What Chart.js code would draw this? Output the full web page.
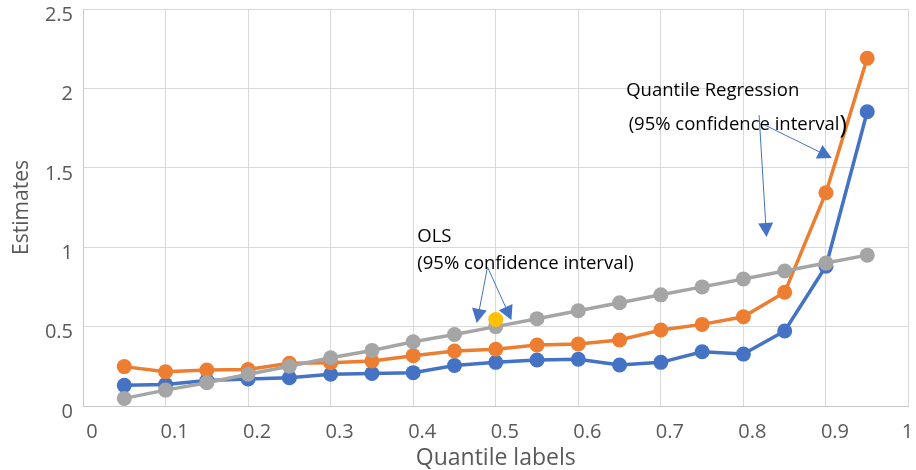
<!DOCTYPE html>
<html>
<head>
<meta charset="utf-8">
<script src="https://cdn.jsdelivr.net/npm/chart.js@4.4.1/dist/chart.umd.min.js"></script>
<style>
  html, body { margin: 0; padding: 0; background: #fff; }
  #wrap { width: 916px; height: 470px; }
</style>
</head>
<body>
<div id="wrap"><canvas id="myChart"></canvas></div>
<script>
// datos
const quantiles = [0.05, 0.1, 0.15, 0.2, 0.25, 0.3, 0.35, 0.4, 0.45, 0.5, 0.55, 0.6, 0.65, 0.7, 0.75, 0.8, 0.85, 0.9, 0.95];
const qrLower = [0.13, 0.135, 0.16, 0.17, 0.178, 0.2, 0.205, 0.21, 0.255, 0.275, 0.29, 0.294, 0.258, 0.275, 0.342, 0.327, 0.472, 0.88, 1.853];
const qrUpper = [0.248, 0.216, 0.227, 0.23, 0.269, 0.273, 0.283, 0.317, 0.346, 0.357, 0.384, 0.39, 0.416, 0.479, 0.514, 0.562, 0.716, 1.343, 2.19];
const olsLine = [0.048, 0.1, 0.147, 0.2, 0.25, 0.304, 0.35, 0.405, 0.45, 0.5, 0.55, 0.6, 0.65, 0.7, 0.75, 0.8, 0.85, 0.9, 0.95];
const olsPointX = [0.5];
const olsPointY = [0.545];

const xTickValues = [0, 0.1, 0.2, 0.3, 0.4, 0.5, 0.6, 0.7, 0.8, 0.9, 1];
const xTickLabels = ['0', '0.1', '0.2', '0.3', '0.4', '0.5', '0.6', '0.7', '0.8', '0.9', '1'];
const yTickValues = [0, 0.5, 1, 1.5, 2, 2.5];
const yTickLabels = ['0', '0.5', '1', '1.5', '2', '2.5'];

const xTitle = 'Quantile labels';
const yTitle = 'Estimates';

// notas y flechas (en unidades de los ejes)
const notes = [
    { text: 'OLS', x: 0.405, y: 1.035 },
    { text: '(95% confidence interval)', x: 0.405, y: 0.861 },
    { text: 'Quantile Regression', x: 0.658, y: 1.952 },
    { text: '(95% confidence interval', x: 0.661, y: 1.738, close: ')' }
];
const arrows = [
    [0.490, 0.875, 0.477, 0.523],
    [0.490, 0.875, 0.519, 0.542],
    [0.819, 1.832, 0.828, 1.064],
    [0.826, 1.769, 0.907, 1.562]
];

const fuente = 'Open Sans';

function pares(xs, ys) {
    return xs.map((x, i) => ({ x: x, y: ys[i] }));
}

function flecha(ctx, x1, y1, x2, y2) {
    const ang = Math.atan2(y2 - y1, x2 - x1);
    const largo = 14, medio = 7.5;
    const bx = x2 - largo * Math.cos(ang), by = y2 - largo * Math.sin(ang);
    ctx.beginPath();
    ctx.moveTo(x1, y1);
    ctx.lineTo(bx, by);
    ctx.stroke();
    ctx.beginPath();
    ctx.moveTo(x2, y2);
    ctx.lineTo(bx + medio * Math.sin(ang), by - medio * Math.cos(ang));
    ctx.lineTo(bx - medio * Math.sin(ang), by + medio * Math.cos(ang));
    ctx.closePath();
    ctx.fill();
}

const notasPlugin = {
    id: 'notas',
    afterDatasetsDraw(chart) {
        const ctx = chart.ctx;
        const sx = chart.scales.x, sy = chart.scales.y;
        ctx.save();
        ctx.fillStyle = '#000';
        ctx.textBaseline = 'alphabetic';
        ctx.textAlign = 'left';
        notes.forEach(n => {
            ctx.font = '18.5px "' + fuente + '"';
            const px = sx.getPixelForValue(n.x), py = sy.getPixelForValue(n.y);
            ctx.fillText(n.text, px, py);
            if (n.close) {
                const w = ctx.measureText(n.text).width;
                ctx.font = '25px "' + fuente + '"';
                ctx.fillText(n.close, px + w, py + 3);
            }
        });
        ctx.strokeStyle = '#4472C4';
        ctx.fillStyle = '#4472C4';
        ctx.lineWidth = 1;
        arrows.forEach(a => {
            flecha(ctx, sx.getPixelForValue(a[0]), sy.getPixelForValue(a[1]),
                        sx.getPixelForValue(a[2]), sy.getPixelForValue(a[3]));
        });
        ctx.restore();
    }
};

function serie(label, data, color, order) {
    return {
        label: label,
        data: pares(quantiles, data),
        borderColor: color,
        backgroundColor: color,
        borderWidth: 3.5,
        pointRadius: 7.5,
        pointHoverRadius: 7.5,
        pointBorderWidth: 0,
        showLine: true,
        order: order
    };
}

const ctx = document.getElementById('myChart');

window.grafica = new Chart(ctx, {
    type: 'scatter',
    data: {
        datasets: [
            serie('QR lower', qrLower, '#4472C4', 3),
            serie('QR upper', qrUpper, '#ED7D31', 2),
            serie('OLS', olsLine, '#A5A5A5', 1),
            {
                label: 'OLS point',
                data: pares(olsPointX, olsPointY),
                backgroundColor: '#FFC000',
                borderColor: '#FFC000',
                pointRadius: 7.5,
                pointBorderWidth: 0,
                order: 0
            }
        ]
    },
    options: {
        responsive: true,
        maintainAspectRatio: false,
        animation: false,
        layout: { padding: { top: 9, right: 5, left: 0, bottom: 0 } },
        plugins: {
            legend: { display: false },
            tooltip: { enabled: false }
        },
        scales: {
            x: {
                type: 'linear',
                min: 0,
                max: 1,
                afterBuildTicks: s => { s.ticks = xTickValues.map(v => ({ value: v })); },
                afterFit: s => { s.height = 64; s.paddingLeft = 0; s.paddingRight = 0; },
                grid: { color: '#D9D9D9', drawTicks: false },
                border: { color: '#C8C8C8' },
                ticks: {
                    color: '#595959',
                    font: { family: fuente, size: 20 },
                    padding: 14,
                    labelOffset: 9,
                    maxRotation: 0,
                    autoSkip: false,
                    callback: (v, i) => i === xTickLabels.length - 1 ? xTickLabels[i] + '\u2002\u2002' : xTickLabels[i]
                },
                title: {
                    display: true,
                    text: xTitle,
                    color: '#595959',
                    font: { family: fuente, size: 23, lineHeight: 1 },
                    padding: { top: 0, bottom: 0 }
                }
            },
            y: {
                min: 0,
                max: 2.5,
                afterBuildTicks: s => { s.ticks = yTickValues.map(v => ({ value: v })); },
                afterFit: s => { s.width = 83; s.paddingTop = 0; s.paddingBottom = 0; },
                grid: { color: '#D9D9D9', drawTicks: false },
                border: { color: '#C8C8C8' },
                ticks: {
                    color: '#595959',
                    font: { family: fuente, size: 20 },
                    padding: 10,
                    labelOffset: 6,
                    callback: (v, i) => yTickLabels[i]
                },
                title: {
                    display: true,
                    text: yTitle,
                    color: '#595959',
                    font: { family: fuente, size: 21 },
                    padding: { top: 9, bottom: 0 }
                }
            }
        }
    },
    plugins: [notasPlugin]
});
</script>
</body>
</html>
